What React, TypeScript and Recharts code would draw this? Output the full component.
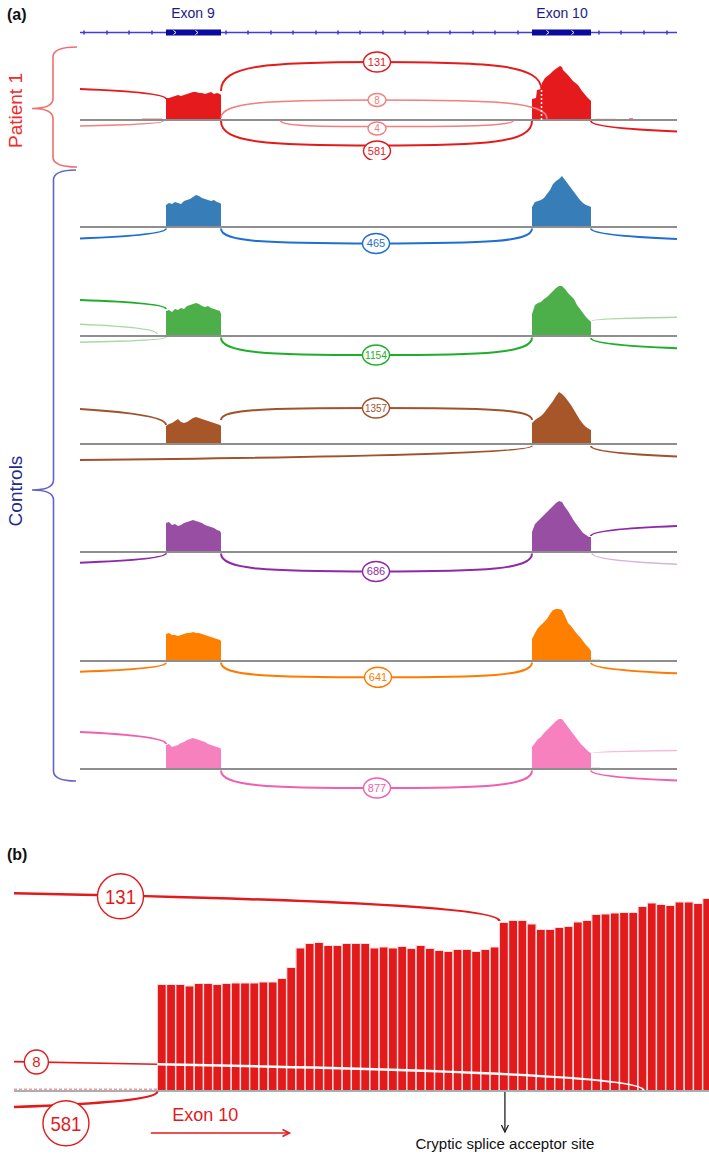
import React from 'react';
import { ComposedChart, BarChart, Area, Line, Scatter, Bar, XAxis, YAxis, ReferenceLine } from 'recharts';

const FONT = '"Liberation Sans", Arial, sans-serif';

// ---------------- Panel (a): gene model (positions in window units 0..597) ----------------
const exonNames = ['Exon 9', 'Exon 10'];
const exonCenters = [113, 482];
const exonStarts = [86, 452];
const exonEnds = [141, 511];
const intronTicks = [4, 27, 49, 72, 146, 168, 191, 213, 236, 258, 280, 303, 325, 348, 370, 393, 415, 438, 519, 541, 564, 587];
const exonChevrons = [95, 117, 468, 493];

// coverage sample positions
const exon9Pos = [86, 89, 92, 95, 98, 101, 104, 107, 110, 113, 116, 119, 122, 125, 128, 131, 134, 137, 140, 141];
const exon10Pos = [452, 455, 458, 461, 464, 467, 470, 473, 476, 479, 482, 485, 488, 491, 494, 497, 500, 503, 506, 509, 511];
const patientExon10Pos = [452, 456, 457, 461, 462, 465, 470, 473, 477, 480, 482, 483, 488, 493, 498, 502, 507, 510, 511];

// coverage depth (scaled)
const patientExon9 = [22, 22, 23, 24, 25, 24, 25, 26, 27, 28, 28, 27, 27, 26, 27, 28, 26, 27, 26, 25];
const patientExon10 = [21, 22, 30, 31, 37, 42, 46, 49, 52, 54, 53, 50, 45, 39, 35, 29, 23, 20, 19];
const blueExon9 = [22, 24, 23, 25, 24, 23, 26, 27, 28, 30, 32, 31, 29, 28, 27, 26, 27, 25, 24, 23];
const blueExon10 = [20, 25, 26, 27, 29, 33, 37, 43, 46, 48, 51, 47, 43, 39, 35, 31, 27, 24, 22, 21, 20];
const greenExon9 = [25, 26, 24, 27, 26, 28, 27, 30, 31, 32, 33, 32, 30, 29, 30, 28, 27, 26, 25, 22];
const greenExon10 = [22, 31, 33, 34, 37, 39, 42, 45, 48, 50, 50, 47, 43, 40, 37, 31, 27, 23, 19, 16, 14];
const brownExon9 = [18, 20, 21, 23, 25, 22, 21, 22, 24, 26, 27, 26, 25, 24, 23, 22, 21, 20, 19, 18];
const brownExon10 = [21, 24, 26, 28, 31, 35, 39, 43, 48, 52, 50, 47, 43, 39, 34, 29, 24, 20, 17, 15, 14];
const purpleExon9 = [29, 30, 27, 28, 26, 27, 29, 30, 31, 32, 31, 30, 29, 27, 26, 25, 24, 22, 21, 19];
const purpleExon10 = [20, 28, 31, 34, 37, 40, 43, 46, 49, 51, 50, 45, 41, 36, 31, 27, 23, 19, 17, 15, 15];
const orangeExon9 = [27, 28, 26, 26, 25, 26, 27, 28, 28, 29, 28, 28, 27, 26, 25, 24, 23, 22, 21, 20];
const orangeExon10 = [22, 28, 33, 36, 39, 42, 47, 51, 52, 52, 51, 45, 38, 35, 31, 27, 24, 20, 16, 13, 10];
const pinkExon9 = [24, 25, 22, 23, 24, 26, 27, 29, 30, 31, 30, 29, 28, 27, 25, 24, 23, 22, 21, 20];
const pinkExon10 = [22, 26, 30, 32, 36, 39, 42, 45, 48, 50, 50, 46, 42, 38, 34, 30, 26, 23, 20, 17, 16];

// junctions inside the window: start, apex (label), end, read count
const patientJunctions = [
  { from: 141, fromY: 29, apex: 297, apexY: 58, to: 461.5, toY: 30, count: 131, labelY: 58 },
  { from: 141, fromY: 2, apex: 297, apexY: 20, to: 467, toY: 1, count: 8, labelY: 20, weak: true },
  { from: 200, fromY: 0, apex: 297, apexY: -6.5, to: 434, toY: 0, count: 4, labelY: -8.5, weak: true },
  { from: 141, fromY: -1, apex: 297, apexY: -25.5, to: 452, toY: -1, count: 581, labelY: -31 },
];
const blueJunctions = [{ from: 141, fromY: -1.5, apex: 296, apexY: -16.5, to: 452, toY: -1.5, count: 465, labelY: -16.5 }];
const greenJunctions = [{ from: 141, fromY: -1.5, apex: 296, apexY: -19, to: 452, toY: -1.5, count: 1154, labelY: -19 }];
const brownJunctions = [{ from: 141, fromY: 24, apex: 296, apexY: 36, to: 452, toY: 24, count: 1357, labelY: 36 }];
const purpleJunctions = [{ from: 141, fromY: -1.5, apex: 296, apexY: -19.5, to: 452, toY: -1.5, count: 686, labelY: -19.5 }];
const orangeJunctions = [{ from: 141, fromY: -1.5, apex: 298, apexY: -16.3, to: 452, toY: -1.5, count: 641, labelY: -16.3 }];
const pinkJunctions = [{ from: 141, fromY: -1.5, apex: 297, apexY: -19, to: 452, toY: -1.5, count: 877, labelY: -19 }];

// junctions leaving the window: far end (at window edge) and exon end
const patientEdges = [
  { flat: 0, flatY: 31, exon: 86, exonY: 21 },
  { flat: 0, flatY: -6, exon: 83, exonY: -1, weak: true },
  { flat: 597, flatY: -11.5, exon: 511, exonY: -1 },
];
const blueEdges = [
  { flat: 0, flatY: -11.5, exon: 86, exonY: -1.5 },
  { flat: 597, flatY: -12, exon: 511, exonY: -1.5 },
];
const greenEdges = [
  { flat: 0, flatY: 36, exon: 86, exonY: 27 },
  { flat: 0, flatY: 11.7, exon: 77, exonY: 2, weak: true },
  { flat: 0, flatY: -6.3, exon: 86, exonY: -1.3, weak: true },
  { flat: 597, flatY: -12.3, exon: 511, exonY: -2 },
  { flat: 597, flatY: 18.7, exon: 512, exonY: 15, weak: true },
];
const brownEdges = [
  { flat: 0, flatY: 35, exon: 86, exonY: 19 },
  { flat: 0, flatY: -16, exon: 452, exonY: -1.7 },
  { flat: 597, flatY: -12.5, exon: 511, exonY: -2 },
];
const purpleEdges = [
  { flat: 0, flatY: -10.7, exon: 86, exonY: -1.3 },
  { flat: 597, flatY: 26, exon: 511, exonY: 16 },
  { flat: 597, flatY: -12.3, exon: 512, exonY: -1.3, weak: true },
];
const orangeEdges = [
  { flat: 0, flatY: -10.7, exon: 86, exonY: -1.7 },
  { flat: 597, flatY: -12.3, exon: 511, exonY: -1.7 },
];
const pinkEdges = [
  { flat: 0, flatY: 37, exon: 86, exonY: 25 },
  { flat: 597, flatY: 18.6, exon: 513, exonY: 16, weak: true },
  { flat: 597, flatY: -11.4, exon: 511, exonY: -1.4 },
];

// sparse low coverage stretches [from, to, depth]
const patientLow = [[62, 82, 1.5], [515, 536, 1.2], [549, 553, 2]];
const orangeLow = [[512, 520, 1.5]];
const pinkLow = [[512, 520, 1.5]];
const patientCrypticSite = 461.5;

// ---------------- Panel (b): exon 10 per-base coverage ----------------
const exon10Coverage = [106.5, 106.5, 106.5, 105, 107.5, 107.5, 106.5, 107.5, 108, 108, 108, 109, 109, 112.5, 123.5, 143, 147.5, 148.5, 145.5, 145.5, 147.5, 147.5, 147.5, 143, 144, 143, 144.5, 142.5, 145.5, 142.5, 140.5, 139.5, 141.5, 141.5, 139.5, 141.5, 144, 168.5, 170.5, 170.5, 167, 161.5, 161.5, 163.5, 164.5, 169, 170.5, 176.5, 177, 178, 178.5, 178.5, 184.5, 188, 186.5, 185.5, 189, 189, 187.5, 192.5];
const zoomJunction131 = { flat: -15.5, flatY: 197.7, exon: 37, exonY: 170, labelPos: -3.98, labelY: 194.7 };
const zoomJunction8 = { flat: -15.5, flatY: 29.4, entry: 0, entryY: 26.7, exon: 52.6, exonY: 0.7, labelPos: -13.08, labelY: 29 };
const zoomJunction581 = { flat: -15.5, flatY: -16, exon: 0, exonY: -0.5, labelPos: -9.88, labelY: -32.3 };
const crypticSite = 37.6;
const exon10Arrow = { from: -0.7, to: 14.3, y: -42, textPos: 5.2, textY: -29.5 };

// ---------------- helpers ----------------
const sashimiCurve: any = (context: any) => {
  let pts: number[][] = [];
  return {
    areaStart() {},
    areaEnd() {},
    lineStart() { pts = []; },
    point(x: number, y: number) { pts.push([+x, +y]); },
    lineEnd() {
      if (pts.length === 3) {
        const [a, m, b] = pts;
        context.moveTo(a[0], a[1]);
        context.bezierCurveTo(a[0], a[1] + 0.9 * (m[1] - a[1]), a[0] + 0.3 * (m[0] - a[0]), m[1], m[0], m[1]);
        context.bezierCurveTo(b[0] + 0.3 * (m[0] - b[0]), m[1], b[0], b[1] + 0.9 * (m[1] - b[1]), b[0], b[1]);
      } else if (pts.length === 2) {
        const [f, e] = pts;
        const dx = e[0] - f[0];
        const dy = e[1] - f[1];
        context.moveTo(f[0], f[1]);
        context.bezierCurveTo(f[0] + 0.6 * dx, f[1] + 0.2 * dy, e[0], f[1] + 0.5 * dy, e[0], e[1]);
      } else if (pts.length) {
        context.moveTo(pts[0][0], pts[0][1]);
        for (let i = 1; i < pts.length; i++) context.lineTo(pts[i][0], pts[i][1]);
      }
    },
  };
};

function JunctionLabel({ cx, cy, text, color, rx, ry, fontSize, squeeze }: any) {
  if (cx == null || cy == null) return null;
  return (
    <g>
      <ellipse cx={cx} cy={cy} rx={rx} ry={ry} fill="#fff" stroke={color} strokeWidth={1.4} />
      <text
        x={cx}
        y={cy + fontSize * 0.36}
        textAnchor="middle"
        fontSize={fontSize}
        fill={color}
        fontFamily={FONT}
        {...(squeeze ? { textLength: squeeze, lengthAdjust: 'spacingAndGlyphs' } : {})}
      >
        {text}
      </text>
    </g>
  );
}

function Track({ top, exon9, exon10, exon10At, loops, edges, low, fill, arc, weak, cryptic }: any) {
  const e9 = exon9Pos.map((p, i) => ({ pos: p, y: exon9[i] }));
  const e10 = exon10At.map((p: number, i: number) => ({ pos: p, y: exon10[i] }));
  const labels = loops.map((l: any) => ({ pos: l.apex, y: l.labelY, text: String(l.count), weak: !!l.weak }));
  return (
    <div style={{ position: 'absolute', left: 0, top }}>
      <ComposedChart width={709} height={115} margin={{ top: 0, right: 32, bottom: 0, left: 80 }}>
        <XAxis type="number" dataKey="pos" domain={[0, 597]} hide />
        <YAxis type="number" dataKey="y" domain={[-40, 75]} hide />
        <ReferenceLine y={0} stroke="#8e8e8e" strokeWidth={2} />
        {(low || []).map((s: number[], i: number) => (
          <Area key={'low' + i} data={[{ pos: s[0], y: s[2] }, { pos: s[1], y: s[2] }]} dataKey="y" type="linear"
            fill={weak || fill} fillOpacity={1} stroke="none" baseValue={0} isAnimationActive={false} />
        ))}
        <Area data={e9} dataKey="y" type="linear" fill={fill} fillOpacity={1} stroke="none" baseValue={0} isAnimationActive={false} />
        <Area data={e10} dataKey="y" type="linear" fill={fill} fillOpacity={1} stroke="none" baseValue={0} isAnimationActive={false} />
        {edges.map((e: any, i: number) => (
          <Line key={'e' + i} data={[{ pos: e.flat, y: e.flatY }, { pos: e.exon, y: e.exonY }]} dataKey="y"
            type={sashimiCurve} stroke={e.weak ? weak : arc} strokeWidth={e.weak ? 1.5 : 2} dot={false} activeDot={false} isAnimationActive={false} />
        ))}
        {loops.map((l: any, i: number) => (
          <Line key={'j' + i} data={[{ pos: l.from, y: l.fromY }, { pos: l.apex, y: l.apexY }, { pos: l.to, y: l.toY }]} dataKey="y"
            type={sashimiCurve} stroke={l.weak ? weak : arc} strokeWidth={l.weak ? 1.5 : 2} dot={false} activeDot={false} isAnimationActive={false} />
        ))}
        {cryptic != null && (
          <Line data={[{ pos: cryptic, y: 0 }, { pos: cryptic, y: 30 }]} dataKey="y" type="linear" stroke="#fff"
            strokeWidth={1.5} strokeDasharray="2 2" dot={false} activeDot={false} isAnimationActive={false} />
        )}
        <Scatter data={labels} dataKey="y" isAnimationActive={false}
          shape={(p: any) => {
            const t = p.payload.text;
            const small = t.length < 2;
            return (
              <JunctionLabel cx={p.cx} cy={p.cy} text={t} color={p.payload.weak ? weak : arc}
                rx={small ? 9 : 13.5} ry={small ? 6.5 : 10} fontSize={small ? 10 : 11} squeeze={t.length >= 4 ? 22 : 0} />
            );
          }} />
      </ComposedChart>
    </div>
  );
}

function GeneModel() {
  return (
    <div style={{ position: 'absolute', left: 0, top: 0 }}>
      <ComposedChart width={709} height={41} margin={{ top: 0, right: 32, bottom: 0, left: 80 }}>
        <XAxis type="number" dataKey="pos" domain={[0, 597]} orientation="top" ticks={exonCenters} interval={0}
          tickFormatter={(v: number) => exonNames[exonCenters.indexOf(v)]} axisLine={false} tickLine={false}
          tickSize={0} tickMargin={6} height={24} tick={{ fontSize: 14, fill: '#1b1b86', fontFamily: FONT }} />
        <YAxis type="number" dataKey="y" domain={[-1, 1]} hide />
        <Line data={[{ pos: 0, y: 0 }, { pos: 597, y: 0 }]} dataKey="y" type="linear" stroke="#3d3de0" strokeWidth={1.6}
          dot={false} activeDot={false} isAnimationActive={false} />
        <Scatter data={intronTicks.map((p) => ({ pos: p, y: 0 }))} dataKey="y" isAnimationActive={false}
          shape={(p: any) => <line x1={p.cx} x2={p.cx} y1={p.cy - 2} y2={p.cy + 2} stroke="#3d3de0" strokeWidth={1.6} />} />
        {exonStarts.map((s, i) => (
          <Line key={'x' + i} data={[{ pos: s, y: 0 }, { pos: exonEnds[i], y: 0 }]} dataKey="y" type="linear"
            stroke="#0a0a9e" strokeWidth={6} dot={false} activeDot={false} isAnimationActive={false} />
        ))}
        <Scatter data={exonChevrons.map((p) => ({ pos: p, y: 0 }))} dataKey="y" isAnimationActive={false}
          shape={(p: any) => (
            <polyline points={`${p.cx - 1.5},${p.cy - 2} ${p.cx + 1},${p.cy} ${p.cx - 1.5},${p.cy + 2}`} fill="none" stroke="#fff" strokeWidth={1} />
          )} />
      </ComposedChart>
    </div>
  );
}

// bars use a categorical axis over bases 1..60 aligned with the overlay's numeric axis (base i spans i-1..i)
function ZoomBars() {
  const bData = exon10Coverage.map((v, i) => ({ base: i + 1, y: v }));
  return (
    <div style={{ position: 'absolute', left: 0, top: 870.7 }}>
      <BarChart width={712} height={286} data={bData} margin={{ top: 0, right: 0, bottom: 0, left: 157.3 }} barCategoryGap={0} barGap={0}>
        <XAxis type="category" dataKey="base" hide />
        <YAxis type="number" domain={[-66, 220]} hide />
        <Bar dataKey="y" fill="#e31a1c" stroke="#fbe0e0" strokeWidth={1.2} isAnimationActive={false} />
      </BarChart>
    </div>
  );
}

function ZoomOverlay() {
  const red = '#e31a1c';
  const j131 = zoomJunction131;
  const j8 = zoomJunction8;
  const j581 = zoomJunction581;
  const labels = [
    { pos: j131.labelPos, y: j131.labelY, text: '131' },
    { pos: j8.labelPos, y: j8.labelY, text: '8' },
    { pos: j581.labelPos, y: j581.labelY, text: '581' },
  ];
  return (
    <div style={{ position: 'absolute', left: 0, top: 870.7 }}>
      <ComposedChart width={712} height={286} margin={{ top: 0, right: 0, bottom: 0, left: 14 }}>
        <XAxis type="number" dataKey="pos" domain={[-15.5, 60]} hide />
        <YAxis type="number" dataKey="y" domain={[-66, 220]} hide />
        <ReferenceLine y={0} stroke="#a3b1b6" strokeWidth={2} />
        <Line data={[{ pos: j8.flat, y: 1.5 }, { pos: j8.entry, y: 1.5 }]} dataKey="y" type="linear" stroke="#f29a9a"
          strokeWidth={2} strokeDasharray="3 2" dot={false} activeDot={false} isAnimationActive={false} />
        <Line data={[{ pos: j131.flat, y: j131.flatY }, { pos: j131.exon, y: j131.exonY }]} dataKey="y" type={sashimiCurve}
          stroke={red} strokeWidth={2.5} dot={false} activeDot={false} isAnimationActive={false} />
        <Line data={[{ pos: j8.flat, y: j8.flatY }, { pos: j8.entry, y: j8.entryY }]} dataKey="y" type="linear"
          stroke={red} strokeWidth={1.6} dot={false} activeDot={false} isAnimationActive={false} />
        <Line data={[{ pos: j8.entry, y: j8.entryY }, { pos: j8.exon, y: j8.exonY }]} dataKey="y" type={sashimiCurve}
          stroke="#fff" strokeWidth={2.5} dot={false} activeDot={false} isAnimationActive={false} />
        <Line data={[{ pos: j581.flat, y: j581.flatY }, { pos: j581.exon, y: j581.exonY }]} dataKey="y" type={sashimiCurve}
          stroke={red} strokeWidth={2.5} dot={false} activeDot={false} isAnimationActive={false} />
        <ReferenceLine segment={[{ x: exon10Arrow.from, y: exon10Arrow.y }, { x: exon10Arrow.to, y: exon10Arrow.y }]} stroke={red} strokeWidth={1.5} />
        <ReferenceLine segment={[{ x: crypticSite, y: -1 }, { x: crypticSite, y: -41 }]} stroke="#222" strokeWidth={1.3} />
        <Scatter data={[{ pos: exon10Arrow.to, y: exon10Arrow.y }]} dataKey="y" isAnimationActive={false}
          shape={(p: any) => (
            <polyline points={`${p.cx - 7},${p.cy - 3.5} ${p.cx},${p.cy} ${p.cx - 7},${p.cy + 3.5}`} fill="none" stroke={red} strokeWidth={1.5} />
          )} />
        <Scatter data={[{ pos: crypticSite, y: -41 }]} dataKey="y" isAnimationActive={false}
          shape={(p: any) => (
            <polyline points={`${p.cx - 3.5},${p.cy - 7} ${p.cx},${p.cy} ${p.cx + 3.5},${p.cy - 7}`} fill="none" stroke="#222" strokeWidth={1.3} />
          )} />
        <Scatter data={[{ pos: exon10Arrow.textPos, y: exon10Arrow.textY, text: 'Exon 10' }]} dataKey="y" isAnimationActive={false}
          shape={(p: any) => (
            <text x={p.cx} y={p.cy} textAnchor="middle" fontSize={18} fill={red} fontFamily={FONT}>{p.payload.text}</text>
          )} />
        <Scatter data={[{ pos: crypticSite, y: -57.5, text: 'Cryptic splice acceptor site' }]} dataKey="y" isAnimationActive={false}
          shape={(p: any) => (
            <text x={p.cx} y={p.cy} textAnchor="middle" fontSize={14} fill="#111" fontFamily={FONT} textLength={179} lengthAdjust="spacingAndGlyphs">{p.payload.text}</text>
          )} />
        <Scatter data={labels} dataKey="y" isAnimationActive={false}
          shape={(p: any) => {
            const small = p.payload.text.length < 2;
            return (
              <JunctionLabel cx={p.cx} cy={p.cy} text={p.payload.text} color={red}
                rx={small ? 12 : 23} ry={small ? 12 : 22.5} fontSize={small ? 15 : 21} squeeze={small ? 0 : 31} />
            );
          }} />
      </ComposedChart>
    </div>
  );
}

function bracePath(xR: number, xV: number, xTip: number, y0: number, yM: number, y1: number) {
  return `M${xR},${y0} Q${xV},${y0} ${xV},${y0 + 10} L${xV},${yM - 10} Q${xV},${yM} ${xTip},${yM} Q${xV},${yM} ${xV},${yM + 10} L${xV},${y1 - 10} Q${xV},${y1} ${xR},${y1}`;
}

export default function App() {
  return (
    <div style={{ position: 'absolute', left: 0, top: 0, width: 709, height: 1158, overflow: 'hidden', background: '#fff', fontFamily: FONT }}>
      <svg width={709} height={1158} style={{ position: 'absolute', left: 0, top: 0 }}>
        <text x={7} y={20} fontSize={16} fontWeight="bold" fill="#111" fontFamily={FONT}>(a)</text>
        <text x={7} y={860} fontSize={16} fontWeight="bold" fill="#111" fontFamily={FONT}>(b)</text>
        <path d={bracePath(77, 53, 32, 47, 108.5, 167)} fill="none" stroke="#f26d6d" strokeWidth={1.6} />
        <path d={bracePath(76, 53.5, 32, 170, 490, 781)} fill="none" stroke="#6464c8" strokeWidth={1.6} />
        <text transform="translate(22,110.5) rotate(-90)" textAnchor="middle" fontSize={19} fill="#ef2a2a" fontFamily={FONT}>Patient 1</text>
        <text transform="translate(22,491) rotate(-90)" textAnchor="middle" fontSize={19} fill="#1d2a8e" fontFamily={FONT}>Controls</text>
      </svg>
      <GeneModel />
      <Track top={45} exon9={patientExon9} exon10={patientExon10} exon10At={patientExon10Pos} loops={patientJunctions}
        edges={patientEdges} low={patientLow} fill="#e41a1c" arc="#e41a1c" weak="#f47d7d" cryptic={patientCrypticSite} />
      <Track top={152} exon9={blueExon9} exon10={blueExon10} exon10At={exon10Pos} loops={blueJunctions}
        edges={blueEdges} fill="#377eb8" arc="#1f6fd1" weak="#9cc1ea" />
      <Track top={261} exon9={greenExon9} exon10={greenExon10} exon10At={exon10Pos} loops={greenJunctions}
        edges={greenEdges} fill="#4daf4a" arc="#1fae2a" weak="#a8d9a2" />
      <Track top={369} exon9={brownExon9} exon10={brownExon10} exon10At={exon10Pos} loops={brownJunctions}
        edges={brownEdges} fill="#a65628" arc="#a0522d" weak="#d6a98c" />
      <Track top={477} exon9={purpleExon9} exon10={purpleExon10} exon10At={exon10Pos} loops={purpleJunctions}
        edges={purpleEdges} fill="#984ea3" arc="#8e2aa8" weak="#d6b4de" />
      <Track top={586} exon9={orangeExon9} exon10={orangeExon10} exon10At={exon10Pos} loops={orangeJunctions}
        edges={orangeEdges} low={orangeLow} fill="#ff7f00" arc="#ff7a00" weak="#ffb870" />
      <Track top={694} exon9={pinkExon9} exon10={pinkExon10} exon10At={exon10Pos} loops={pinkJunctions}
        edges={pinkEdges} low={pinkLow} fill="#f781bf" arc="#f060ae" weak="#f7bcd9" />
      <ZoomBars />
      <ZoomOverlay />
    </div>
  );
}
